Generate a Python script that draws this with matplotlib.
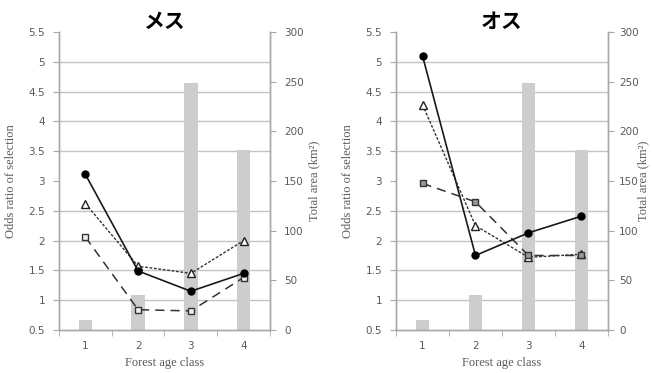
import numpy as np
import matplotlib
matplotlib.use("Agg")
import matplotlib.pyplot as plt

# data
AGE_CLASS = [1, 2, 3, 4]
TOTAL_AREA = [10, 35, 249, 181]  # km2, right axis

FEMALE_SOLID = [3.11, 1.49, 1.15, 1.45]
FEMALE_DOTTED = [2.62, 1.57, 1.45, 2.00]
FEMALE_DASHED = [2.06, 0.84, 0.82, 1.38]

MALE_SOLID = [5.10, 1.75, 2.13, 2.41]
MALE_DOTTED = [4.28, 2.25, 1.72, 1.77]
MALE_DASHED = [2.96, 2.65, 1.75, 1.75]

TITLES = ["メス", "オス"]

GRAY_TXT = "#5a5a5a"
SPINE = "#a8a8a8"
GRID = "#c4c4c4"
BAR = "#cdcdcd"


def draw_panel(fig, rect, title, solid, dotted, dashed, square_face,
               right_tick_pad, right_label_pad):
    ax_bar = fig.add_axes(rect)
    ax_bar.bar(AGE_CLASS, TOTAL_AREA, width=0.26, color=BAR, zorder=2)
    ax_line = ax_bar.twinx()

    # bar axis: right side, 0-300
    ax_bar.set_ylim(0, 300)
    ax_bar.set_xlim(0.5, 4.5)
    ax_bar.set_yticks(np.arange(0, 301, 50))
    ax_bar.set_yticks(np.arange(0, 301, 30), minor=True)
    ax_bar.grid(which="minor", axis="y", color=GRID, linewidth=1.0, zorder=0)
    ax_bar.set_axisbelow(True)
    ax_bar.yaxis.tick_right()
    ax_bar.yaxis.set_label_position("right")
    ax_bar.tick_params(axis="y", which="major", direction="out", length=4,
                       color=SPINE, labelcolor=GRAY_TXT, labelsize=7.5,
                       pad=right_tick_pad)
    ax_bar.tick_params(axis="y", which="minor", length=0)
    ax_bar.set_ylabel("Total area (km²)", family="Liberation Serif",
                      fontsize=9, color=GRAY_TXT, labelpad=right_label_pad)

    ax_bar.set_xticks(AGE_CLASS)
    ax_bar.set_xticks(np.arange(0.5, 4.6, 1.0), minor=True)
    ax_bar.tick_params(axis="x", which="major", length=0, labelcolor=GRAY_TXT,
                       labelsize=7.5, pad=8)
    ax_bar.tick_params(axis="x", which="minor", direction="out", length=4, color=SPINE)
    ax_bar.set_xlabel("Forest age class", family="Liberation Serif",
                      fontsize=9, color=GRAY_TXT, labelpad=4)

    # odds ratio axis: left side, 0.5-5.5
    ax_line.set_ylim(0.5, 5.5)
    odds_ticks = np.arange(0.5, 5.51, 0.5)
    ax_line.set_yticks(odds_ticks)
    ax_line.set_yticklabels([f"{v:g}" for v in odds_ticks])
    ax_line.yaxis.tick_left()
    ax_line.yaxis.set_label_position("left")
    ax_line.tick_params(axis="y", direction="out", length=4, color=SPINE,
                        labelcolor=GRAY_TXT, labelsize=7.5, pad=6)
    ax_line.set_ylabel("Odds ratio of selection", family="Liberation Serif",
                       fontsize=9, color=GRAY_TXT, labelpad=8)

    ax_line.plot(AGE_CLASS, solid, color="#1a1a1a", linewidth=1.2,
                 marker="o", markersize=5, markerfacecolor="black",
                 markeredgecolor="black", zorder=4)
    ax_line.plot(AGE_CLASS, dotted, color="#333333", linewidth=1.0,
                 dashes=(2, 1.2), marker="^", markersize=6,
                 markerfacecolor="white", markeredgecolor="#222222", zorder=3)
    ax_line.plot(AGE_CLASS, dashed, color="#333333", linewidth=1.1,
                 dashes=(6, 4), marker="s", markersize=5,
                 markerfacecolor=square_face, markeredgecolor="#333333", zorder=3)

    for a in (ax_bar, ax_line):
        a.spines["top"].set_visible(False)
        for s in ("left", "right", "bottom"):
            a.spines[s].set_color(SPINE)
            a.spines[s].set_linewidth(1.0)

    ax_line.set_title(title, family=["Noto Sans CJK JP", "DejaVu Sans"],
                      fontsize=15, fontweight="bold", color="black", pad=3)


fig = plt.figure(figsize=(6.52, 3.73), dpi=100)
fig.patch.set_facecolor("white")

draw_panel(fig, [0.0905, 0.1153, 0.3236, 0.799], TITLES[0],
           FEMALE_SOLID, FEMALE_DOTTED, FEMALE_DASHED, "#eeeeee", 6, 3)
draw_panel(fig, [0.6074, 0.1153, 0.3250, 0.799], TITLES[1],
           MALE_SOLID, MALE_DOTTED, MALE_DASHED, "#9a9a9a", 4, -1)

fig.savefig("out.png", dpi=100)
